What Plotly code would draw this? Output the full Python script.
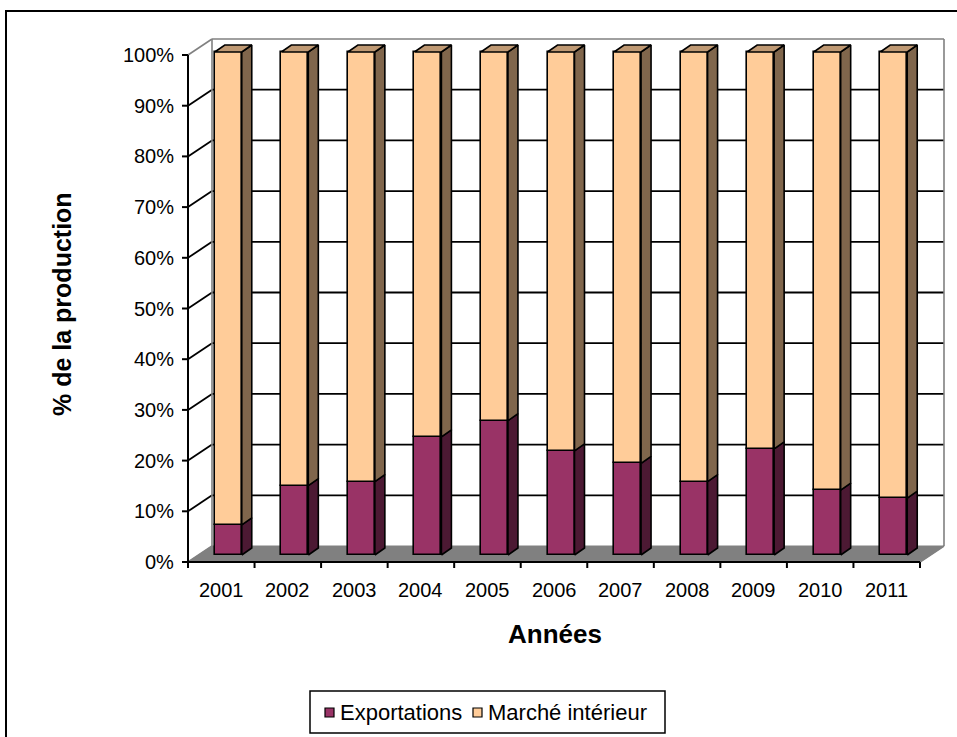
import plotly.graph_objects as go

# ---------------- data ----------------
years = ["2001", "2002", "2003", "2004", "2005", "2006", "2007", "2008", "2009", "2010", "2011"]
exportations = [6.0, 13.8, 14.6, 23.5, 26.7, 20.7, 18.2, 14.6, 21.1, 12.9, 11.3]
marche_interieur = [94.0, 86.2, 85.4, 76.5, 73.3, 79.3, 81.8, 85.4, 78.9, 87.1, 88.7]
y_ticks = [0, 10, 20, 30, 40, 50, 60, 70, 80, 90, 100]
y_tick_labels = ["0%", "10%", "20%", "30%", "40%", "50%", "60%", "70%", "80%", "90%", "100%"]
series_names = ["Exportations", "Marché intérieur"]

# ---------------- styles / geometry ----------------
FIG_W, FIG_H = 957, 737
X0_PX, X1_PX = 188, 920      # front axis extent (pixels)
Y0_PX, Y100_PX = 562, 55     # 0% and 100% on the front plane
N = len(years)
PX_X = (X1_PX - X0_PX) / N   # pixels per category
PX_Y = (Y0_PX - Y100_PX) / 100.0  # pixels per percent

def dx(px):
    return px / PX_X

def dy(px):
    return px / PX_Y

WALL_DX, WALL_DY = dx(24), dy(16)
BAR_OFF_X, BAR_OFF_Y = dx(7), dy(7)
BAR_W = dx(27)
BAR_DX, BAR_DY = dx(10), dy(7)
BAR_K = 503.0 / 507.0

C_EXP, C_EXP_SIDE = "#993366", "#4C1933"
C_MAR, C_MAR_SIDE, C_MAR_TOP = "#FFCC99", "#80664C", "#BF9973"
GRAY = "#808080"
FONT = "Liberation Sans, Arial, sans-serif"

xr = [-0.5 - X0_PX / PX_X, -0.5 + (FIG_W - X0_PX) / PX_X]
yr = [-(FIG_H - Y0_PX) / PX_Y, Y0_PX / PX_Y]

fig = go.Figure()

xl, xrt = -0.5, N - 0.5
centers = [i + BAR_OFF_X for i in range(N)]

# front faces (bars)
exp_h = [v * BAR_K for v in exportations]
mar_h = [v * BAR_K for v in marche_interieur]
exp_base = [BAR_OFF_Y] * N
mar_base = [BAR_OFF_Y + h for h in exp_h]

fig.add_trace(go.Bar(x=centers, y=exp_h, base=exp_base, width=BAR_W, name=series_names[0],
                     marker=dict(color=C_EXP, line=dict(color="black", width=1.6)),
                     hoverinfo="skip", showlegend=False))
fig.add_trace(go.Bar(x=centers, y=mar_h, base=mar_base, width=BAR_W, name=series_names[1],
                     marker=dict(color=C_MAR, line=dict(color="black", width=1.6)),
                     hoverinfo="skip", showlegend=False))

def side_poly(bases, heights):
    xs, ys = [], []
    for c, b, h in zip(centers, bases, heights):
        r = c + BAR_W / 2
        t = b + h
        xs += [r, r + BAR_DX, r + BAR_DX, r, r, None]
        ys += [b, b + BAR_DY, t + BAR_DY, t, b, None]
    return xs, ys

def top_poly(bases, heights):
    xs, ys = [], []
    for c, b, h in zip(centers, bases, heights):
        l, r = c - BAR_W / 2, c + BAR_W / 2
        t = b + h
        xs += [l, l + BAR_DX, r + BAR_DX, r, l, None]
        ys += [t, t + BAR_DY, t + BAR_DY, t, t, None]
    return xs, ys

for (bases, heights, col) in [(exp_base, exp_h, C_EXP_SIDE), (mar_base, mar_h, C_MAR_SIDE)]:
    sx, sy = side_poly(bases, heights)
    fig.add_trace(go.Scatter(x=sx, y=sy, mode="lines", fill="toself", fillcolor=col,
                             line=dict(color="black", width=1.6), hoverinfo="skip",
                             showlegend=False))
tx, ty = top_poly(mar_base, mar_h)
fig.add_trace(go.Scatter(x=tx, y=ty, mode="lines", fill="toself", fillcolor=C_MAR_TOP,
                         line=dict(color="black", width=1.6), hoverinfo="skip", showlegend=False))

shapes = []
# floor
shapes.append(dict(type="path", layer="below", xref="x", yref="y",
                   path=f"M{xl},0 L{xrt},0 L{xrt + WALL_DX},{WALL_DY} L{xl + WALL_DX},{WALL_DY} Z",
                   fillcolor=GRAY, line=dict(color=GRAY, width=1)))
# back wall gridlines and left wall diagonals
for t in y_ticks:
    if 0 < t < 100:
        shapes.append(dict(type="line", layer="below", xref="x", yref="y",
                           x0=xl + WALL_DX, x1=xrt + WALL_DX, y0=t + WALL_DY, y1=t + WALL_DY,
                           line=dict(color="black", width=1.8)))
        shapes.append(dict(type="line", layer="below", xref="x", yref="y",
                           x0=xl, x1=xl + WALL_DX, y0=t, y1=t + WALL_DY,
                           line=dict(color="black", width=1.8)))
    else:
        shapes.append(dict(type="line", layer="below", xref="x", yref="y",
                           x0=xl, x1=xl + WALL_DX, y0=t, y1=t + WALL_DY,
                           line=dict(color=GRAY, width=1.6)))
# wall borders (gray)
top = y_ticks[-1]
shapes.append(dict(type="line", layer="below", xref="x", yref="y",
                   x0=xl + WALL_DX, x1=xrt + WALL_DX, y0=top + WALL_DY, y1=top + WALL_DY,
                   line=dict(color=GRAY, width=1.6)))
shapes.append(dict(type="line", layer="below", xref="x", yref="y",
                   x0=xl + WALL_DX, x1=xl + WALL_DX, y0=WALL_DY, y1=top + WALL_DY,
                   line=dict(color=GRAY, width=1.6)))
shapes.append(dict(type="line", layer="below", xref="x", yref="y",
                   x0=xrt + WALL_DX, x1=xrt + WALL_DX, y0=WALL_DY, y1=top + WALL_DY,
                   line=dict(color=GRAY, width=1.6)))
shapes.append(dict(type="line", layer="below", xref="x", yref="y",
                   x0=xrt, x1=xrt + WALL_DX, y0=0, y1=WALL_DY,
                   line=dict(color=GRAY, width=1.6)))
# front axes
shapes.append(dict(type="line", xref="x", yref="y", x0=xl, x1=xl, y0=0, y1=top,
                   line=dict(color="black", width=2)))
shapes.append(dict(type="line", xref="x", yref="y", x0=xl, x1=xrt, y0=0, y1=0,
                   line=dict(color="black", width=2)))
for t in y_ticks:
    shapes.append(dict(type="line", xref="x", yref="y", x0=xl - dx(6), x1=xl, y0=t, y1=t,
                       line=dict(color="black", width=2)))
for i in range(N + 1):
    shapes.append(dict(type="line", xref="x", yref="y", x0=i - 0.5, x1=i - 0.5, y0=0, y1=-dy(6),
                       line=dict(color="black", width=2)))

# outer chart border (paper coords)
def px2paper(x, y):
    return x / FIG_W, 1 - y / FIG_H

bx0, by0 = px2paper(6, 11)
bx1, by1 = px2paper(975, 760)
shapes.append(dict(type="rect", xref="paper", yref="paper", x0=bx0, y0=by1, x1=bx1, y1=by0,
                   line=dict(color="black", width=2), fillcolor="rgba(0,0,0,0)"))

# legend box
lx0, ly0 = px2paper(310, 691)
lx1, ly1 = px2paper(665, 733)
shapes.append(dict(type="rect", xref="paper", yref="paper", x0=lx0, y0=ly1, x1=lx1, y1=ly0,
                   line=dict(color="black", width=1.5), fillcolor="white"))
legend_items = [(325, C_EXP, series_names[0]), (473, C_MAR, series_names[1])]
annotations = []
for (sx, col, name) in legend_items:
    a0, b0 = px2paper(sx, 708)
    a1, b1 = px2paper(sx + 9, 717)
    shapes.append(dict(type="rect", xref="paper", yref="paper", x0=a0, y0=b1, x1=a1, y1=b0,
                       line=dict(color="black", width=1.2), fillcolor=col))
    tx0, ty0 = px2paper(sx + 15, 712)
    annotations.append(dict(xref="paper", yref="paper", x=tx0, y=ty0, text=name,
                            xanchor="left", yanchor="middle", showarrow=False,
                            font=dict(family=FONT, size=22, color="black"),
                            borderpad=0, borderwidth=0))

# tick labels
for t, lab in zip(y_ticks, y_tick_labels):
    annotations.append(dict(xref="x", yref="y", x=xl - dx(14), y=t, text=lab,
                            xanchor="right", yanchor="middle", showarrow=False,
                            font=dict(family=FONT, size=20, color="black"),
                            borderpad=0, borderwidth=0))
for i, lab in enumerate(years):
    annotations.append(dict(xref="x", yref="y", x=i, y=-dy(28), text=lab,
                            xanchor="center", yanchor="middle", showarrow=False,
                            font=dict(family=FONT, size=20, color="black"),
                            borderpad=0, borderwidth=0))

# axis titles
ax_, ay_ = px2paper(555, 634)
annotations.append(dict(xref="paper", yref="paper", x=ax_, y=ay_, text="<b>Années</b>",
                        xanchor="center", yanchor="middle", showarrow=False,
                        font=dict(family=FONT, size=26, color="black"), borderpad=0, borderwidth=0))
yx_, yy_ = px2paper(62, 304)
annotations.append(dict(xref="paper", yref="paper", x=yx_, y=yy_, text="<b>% de la production</b>",
                        textangle=-90, xanchor="center", yanchor="middle", showarrow=False,
                        font=dict(family=FONT, size=25, color="black"), borderpad=0, borderwidth=0))

fig.update_layout(
    width=FIG_W, height=FIG_H, autosize=False,
    margin=dict(l=0, r=0, t=0, b=0, pad=0),
    paper_bgcolor="white", plot_bgcolor="white",
    barmode="overlay", bargap=0,
    xaxis=dict(range=xr, visible=False, fixedrange=True),
    yaxis=dict(range=yr, visible=False, fixedrange=True),
    shapes=shapes, annotations=annotations,
    showlegend=False,
)

fig.write_html("out.html")
